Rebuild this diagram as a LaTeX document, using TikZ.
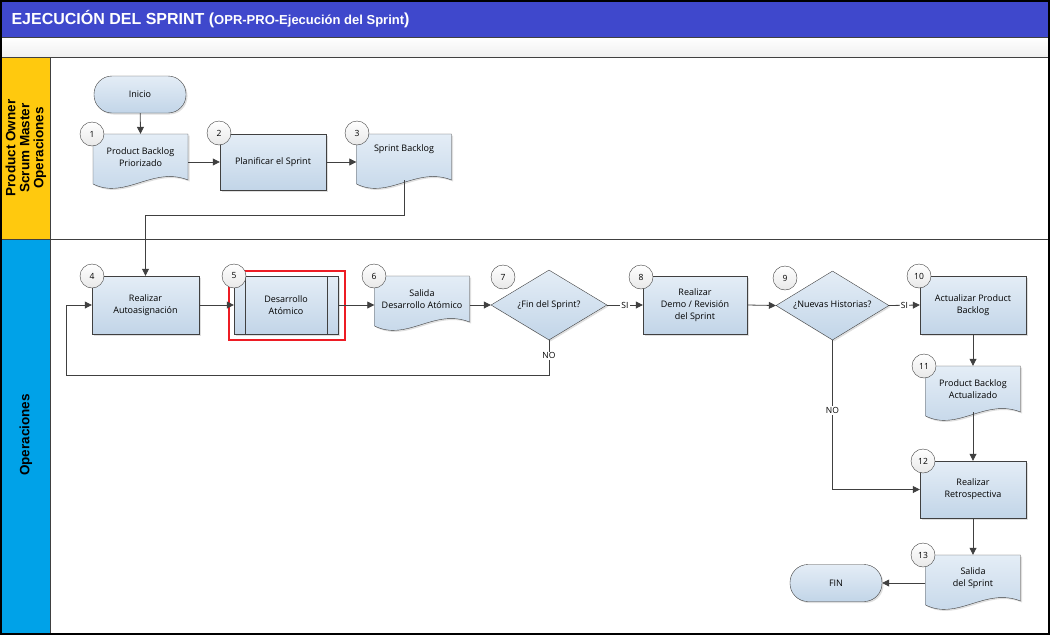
\documentclass[tikz,border=0pt]{standalone}
\usepackage{fontspec}
\setmainfont{Liberation Sans}
\newfontfamily\boxfont{Open Sans}
\usetikzlibrary{positioning,shapes.geometric,shadows,arrows.meta}

\definecolor{titleblue}{RGB}{63,72,204}
\definecolor{laneyellow}{RGB}{255,201,14}
\definecolor{laneblue}{RGB}{0,162,232}
\definecolor{boxtop}{RGB}{228,237,246}
\definecolor{boxbottom}{RGB}{194,213,232}
\definecolor{boxline}{RGB}{64,64,64}
\definecolor{markred}{RGB}{237,28,36}

\tikzset{
  shapebase/.style={draw=boxline, top color=boxtop, bottom color=boxbottom,
    drop shadow={shadow xshift=1.5pt, shadow yshift=-1.5pt, opacity=0.25}},
  boxtext/.style={font=\boxfont\fontsize{9}{12}\selectfont, align=center},
  procbox/.style={shapebase, boxtext, rectangle, minimum width=106pt, minimum height=58pt, inner sep=1pt},
  termbox/.style={shapebase, boxtext, rectangle, rounded corners=18pt, minimum width=92pt, minimum height=37pt},
  decision/.style={shapebase, diamond, minimum width=116pt, minimum height=70pt, inner sep=0pt,
    label={[boxtext]center:#1}},
  doctext/.style={boxtext, minimum width=95pt, minimum height=46pt, inner sep=1pt},
  numcirc/.style={circle, draw=boxline, top color=white, bottom color=gray!18, minimum size=24pt, inner sep=0pt,
    font=\boxfont\fontsize{8.5}{10}\selectfont},
  conn/.style={draw=boxline, thick, -{Triangle[length=7pt,width=7pt]}},
  lbl/.style={fill=white, inner sep=1pt, font=\boxfont\fontsize{8.5}{10}\selectfont},
}

% document shape: name, centre x, top y, text
\newcommand{\docbox}[4]{%
  \path[shapebase] ({#2-47.5},{#3}) -- ({#2+47.5},{#3}) -- ({#2+47.5},{#3+46})
    .. controls ({#2+12},{#3+32}) and ({#2-15},{#3+66}) .. ({#2-47.5},{#3+50}) -- cycle;
  \node[doctext] (#1) at ({#2},{#3+23}) {#4};
}

\begin{document}
\begin{tikzpicture}[x=1pt,y=-1pt]
\useasboundingbox (0,0) rectangle (1050,635);

% frame and lanes
\fill[titleblue] (0,0) rectangle (1050,37);
\shade[top color=white, bottom color=gray!12] (0,37) rectangle (1050,57);
\fill[laneyellow] (0,57) rectangle (50,239);
\fill[laneblue] (0,239) rectangle (50,635);
\draw[boxline, thick] (0,37) -- (1050,37);
\draw[boxline, thick] (0,57) -- (1050,57);
\draw[boxline, thick] (0,239) -- (1050,239);
\draw[boxline, thick] (50,57) -- (50,635);
\draw[black, line width=2pt] (1,1) rectangle (1049,634);

\node[anchor=west, text=white, font=\bfseries\fontsize{16}{18}\selectfont] (title) at (8,19)
  {EJECUCIÓN DEL SPRINT ({\fontsize{13}{15}\selectfont OPR-PRO-Ejecución del Sprint})};
\node[rotate=90, align=center, font=\bfseries\fontsize{13.5}{14}\selectfont] (lane1) at (26,148)
  {Product Owner\\Scrum Master\\Operaciones};
\node[rotate=90, font=\bfseries\fontsize{13.5}{14}\selectfont] (lane2) at (26,435) {Operaciones};

% shapes
\node[termbox] (ini) at (140,94.5) {Inicio};
\docbox{b1}{140.5}{134}{Product Backlog\\Priorizado}
\node[procbox, minimum height=56pt] (b2) at (273,162) {Planificar el Sprint};
\docbox{b3}{404}{134}{Sprint Backlog\\[6pt]}
\node[procbox, minimum width=107pt] (b4) at (145.5,305) {Realizar\\Autoasignación};
\node[procbox, minimum width=104pt] (b5) at (286,305) {Desarrollo\\Atómico};
\draw[boxline] ([xshift=11pt]b5.north west) -- ([xshift=11pt]b5.south west);
\draw[boxline] ([xshift=-11pt]b5.north east) -- ([xshift=-11pt]b5.south east);
\draw[markred, line width=2.2pt] ([xshift=-5pt,yshift=5pt]b5.north west) rectangle ([xshift=7pt,yshift=-6pt]b5.south east);
\docbox{b6}{422}{276}{Salida\\Desarrollo Atómico}
\node[decision={¿Fin del Sprint?}] (d7) at (549,305) {};
\node[procbox, minimum width=104pt] (b8) at (695,305) {Realizar\\Demo / Revisión\\del Sprint};
\node[decision={¿Nuevas Historias?}, minimum width=113pt, minimum height=69pt] (d9) at (832.5,305.5) {};
\node[procbox] (b10) at (973,305) {Actualizar Product\\Backlog};
\docbox{b11}{973}{366}{Product Backlog\\Actualizado}
\node[procbox, minimum height=57pt] (b12) at (973,489.5) {Realizar\\Retrospectiva};
\docbox{b13}{973}{555}{Salida\\del Sprint}
\node[termbox] (fin) at (836,583) {FIN};

% step numbers
\node[numcirc] (c1) at (92,134) {1};
\node[numcirc] (c2) at (219,133) {2};
\node[numcirc] (c3) at (357,133) {3};
\node[numcirc] (c4) at (92,276) {4};
\node[numcirc] (c5) at (234,276) {5};
\node[numcirc] (c6) at (374,276) {6};
\node[numcirc] (c7) at (503,277) {7};
\node[numcirc] (c8) at (641,277) {8};
\node[numcirc] (c9) at (785,278) {9};
\node[numcirc] (c10) at (919,276) {10};
\node[numcirc] (c11) at (924,366) {11};
\node[numcirc] (c12) at (923,461) {12};
\node[numcirc] (c13) at (923,555) {13};

% connectors
\coordinate (r34) at (0,215);
\coordinate (rno) at (66,375);
\draw[conn] (ini) -- (b1.north);
\draw[conn] (b2.west -| b1.east) -- (b2.west);
\draw[conn] (b2.east) -- (b2.east -| b3.west);
\draw[conn] (b3.south) -- (b3.south |- r34) -| (b4.north);
\draw[conn] (b4.east) -- (b5.west);
\draw[conn] (b5.east) -- (b5.east -| b6.west);
\draw[conn] (d7.west -| b6.east) -- (d7.west);
\draw[conn] (d7.east) -- node[lbl] {SI} (b8.west);
\draw[conn] (d7.south) -- node[lbl, pos=0.45] {NO} (d7.south |- rno) -- (rno) |- (b4.west);
\draw[conn] (b8.east) -- (d9.west);
\draw[conn] (d9.east) -- node[lbl] {SI} (b10.west);
\draw[conn] (d9.south) -- node[lbl, pos=0.47] {NO} (d9.south |- b12.west) -- (b12.west);
\draw[conn] (b10.south) -- (b11.north);
\draw[conn] (b11.south) -- (b12.north);
\draw[conn] (b12.south) -- (b13.north);
\draw[conn] (fin.east -| b13.west) -- (fin.east);
\end{tikzpicture}
\end{document}
